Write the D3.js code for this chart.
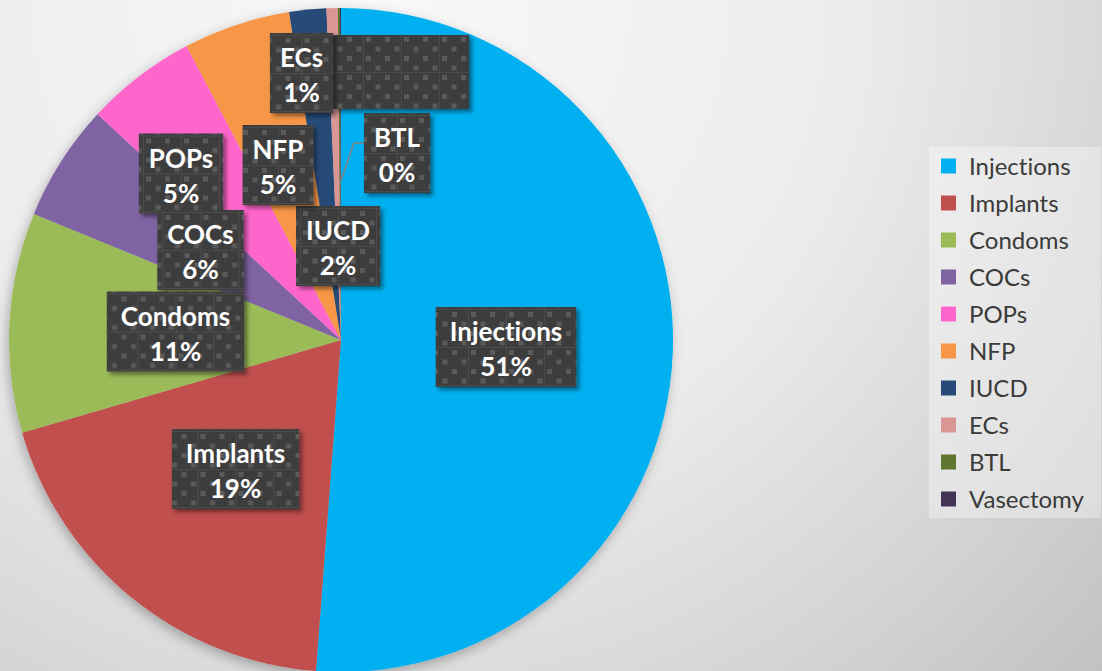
<!DOCTYPE html>
<html lang="en">
<head>
<meta charset="UTF-8">
<title>Methods pie</title>
<script src="https://cdn.jsdelivr.net/npm/d3@7"></script>
<style>
  html, body { margin: 0; padding: 0; overflow: hidden; }
  svg { display: block; }
  text { font-variant-ligatures: none; }
</style>
</head>
<body>
<svg id="chart" width="1102" height="671"></svg>
<script>
// data (share of clients, %)
const methods = ['Injections', 'Implants', 'Condoms', 'COCs', 'POPs', 'NFP', 'IUCD', 'ECs', 'BTL', 'Vasectomy'];
const shares  = [51.2, 19.3, 10.7, 5.7, 5.4, 5.2, 1.8, 0.55, 0.1, 0.05];
const colors  = ['#00B0F0', '#C0504D', '#9BBB59', '#8064A2', '#FF66CC', '#F79646', '#264B78', '#D99694', '#5F7530', '#433354'];
// where the data label boxes were dragged to (box centres)
const labelCenters = [[506, 347], [235.5, 469], [175.5, 331.5], [200.5, 250], [181, 173.5],
                      [278, 165], [338, 246], [301.5, 73], [397, 153], [401, 72]];
const hiddenLabel = 'Vasectomy'; // its box shows but the text does not

const W = 1102, H = 671;
const cx = 341, cy = 340, R = 332;

const svg = d3.select('#chart');
const defs = svg.append('defs');

// background
const bg = defs.append('radialGradient').attr('id', 'bg')
  .attr('gradientUnits', 'userSpaceOnUse')
  .attr('cx', 380).attr('cy', 0).attr('r', 1050);
bg.append('stop').attr('offset', '0%').attr('stop-color', '#f8f8f8');
bg.append('stop').attr('offset', '45%').attr('stop-color', '#ececec');
bg.append('stop').attr('offset', '75%').attr('stop-color', '#d3d3d3');
bg.append('stop').attr('offset', '100%').attr('stop-color', '#bcbcbc');
svg.append('rect').attr('width', W).attr('height', H).attr('fill', 'url(#bg)');

// shadows
const pieShadow = defs.append('filter').attr('id', 'pieShadow')
  .attr('x', '-10%').attr('y', '-10%').attr('width', '120%').attr('height', '120%');
pieShadow.append('feDropShadow').attr('dx', -2).attr('dy', 4).attr('stdDeviation', 6)
  .attr('flood-color', '#000').attr('flood-opacity', 0.28);

const boxShadow = defs.append('filter').attr('id', 'boxShadow')
  .attr('x', '-20%').attr('y', '-20%').attr('width', '140%').attr('height', '140%');
boxShadow.append('feDropShadow').attr('dx', 3).attr('dy', 3).attr('stdDeviation', 2)
  .attr('flood-color', '#000').attr('flood-opacity', 0.45);

// dotted texture for label boxes
const pat = defs.append('pattern').attr('id', 'dots')
  .attr('patternUnits', 'userSpaceOnUse').attr('width', 38).attr('height', 38);
pat.append('rect').attr('width', 38).attr('height', 38).attr('fill', '#3e3e3e');
pat.append('path').attr('d', 'M0,0.5H38M0.5,0V38').attr('stroke', '#4c4c4c').attr('stroke-width', 1);
[[3, 3], [22, 3], [12.5, 12.5], [31.5, 12.5], [3, 22], [22, 22], [12.5, 31.5], [31.5, 31.5]].forEach(p => {
  pat.append('rect').attr('x', p[0]).attr('y', p[1]).attr('width', 5).attr('height', 5).attr('fill', '#5a5a5a');
});

// pie
const pie = d3.pie().sort(null).value(d => d.v);
const data = methods.map((m, i) => ({ name: m, v: shares[i], c: colors[i] }));
const arcs = pie(data);
const total = d3.sum(shares);
const arc = d3.arc().innerRadius(0).outerRadius(R);

const g = svg.append('g').attr('transform', `translate(${cx},${cy})`);
g.append('g').attr('filter', 'url(#pieShadow)')
  .selectAll('path').data(arcs).enter().append('path')
  .attr('d', arc)
  .attr('fill', d => d.data.c);

// leader line target for BTL
const btl = arcs[methods.indexOf('BTL')];
const btlMid = (btl.startAngle + btl.endAngle) / 2;
const tip = [cx + 157 * Math.sin(btlMid), cy - 157 * Math.cos(btlMid)];

// labels
const fontLabel = 'Lato, "Open Sans", sans-serif';
const labels = svg.append('g');
const order = d3.range(methods.length).reverse();
order.forEach(i => {
  const d = arcs[i];
  const [x, y] = labelCenters[i];
  const pct = Math.round(d.data.v / total * 100) + '%';
  const lg = labels.append('g').attr('transform', `translate(${x},${y})`);
  const box = lg.append('rect').attr('fill', 'url(#dots)').attr('filter', 'url(#boxShadow)');
  const t1 = lg.append('text').attr('text-anchor', 'middle').attr('y', -6)
    .attr('font-family', fontLabel).attr('font-weight', 700).attr('font-size', 26)
    .attr('fill', '#fff').text(d.data.name);
  const t2 = lg.append('text').attr('text-anchor', 'middle').attr('y', 29)
    .attr('font-family', fontLabel).attr('font-weight', 700).attr('font-size', 26)
    .attr('fill', '#fff').text(pct);
  const tw = Math.max(t1.node().getComputedTextLength(), t2.node().getComputedTextLength());
  let w = tw + (tw > 90 ? 28 : 20);
  let h = 80;
  if (d.data.name === hiddenLabel) { w = 136; h = 74; t1.remove(); t2.remove(); }
  box.attr('x', -w / 2).attr('y', -h / 2).attr('width', w).attr('height', h);
  if (d.data.name === 'BTL') {
    labels.insert('polyline', ':first-child')
      .attr('points', [[x - w / 2, y - 10], [x - w / 2 - 10, y - 10], tip].map(p => p.join(',')).join(' '))
      .attr('fill', 'none').attr('stroke', '#808080').attr('stroke-width', 1.5);
  }
});

// legend
const legend = svg.append('g');
legend.append('rect').attr('x', 929).attr('y', 147).attr('width', 172).attr('height', 371)
  .attr('fill', '#ffffff').attr('fill-opacity', 0.35);
const legItems = legend.selectAll('g.item').data(data).enter().append('g')
  .attr('class', 'item')
  .attr('transform', (d, i) => `translate(941,${166 + i * 37})`);
legItems.append('rect').attr('x', 0).attr('y', -7.5).attr('width', 15).attr('height', 15)
  .attr('fill', d => d.c);
legItems.append('text').attr('x', 28).attr('y', 8.5)
  .attr('font-family', 'Lato, "Open Sans", sans-serif').attr('font-size', 24)
  .attr('fill', '#3a3a3a').text(d => d.name);
</script>
</body>
</html>
